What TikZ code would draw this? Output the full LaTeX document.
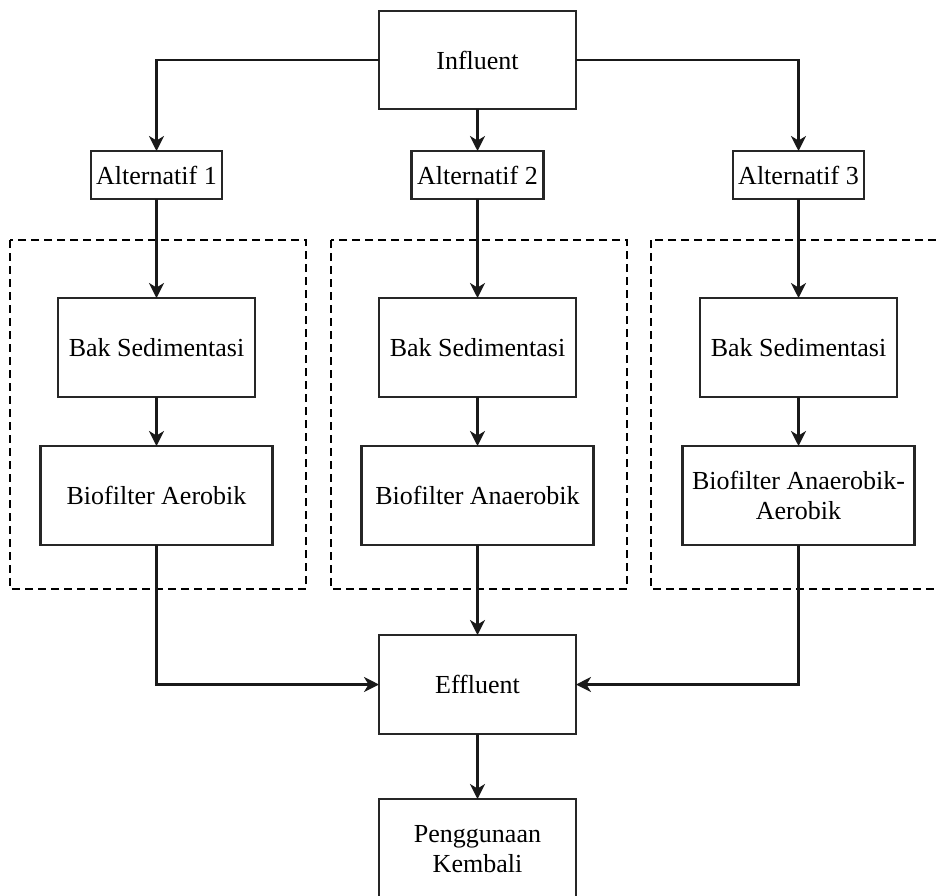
\documentclass[tikz,border=0pt]{standalone}
\usepackage{fontspec}
\setmainfont{Liberation Serif}
\usetikzlibrary{arrows.meta}
\begin{document}
\begin{tikzpicture}[x=1pt,y=-1pt,
  every node/.style={font=\fontsize{26}{30}\selectfont, align=center, inner sep=0pt, outer sep=0pt, text=black},
  box/.style={draw=black!85, line width=2.1pt},
  link/.style={draw=black!90, line width=2.1pt},
  arr/.style={link, -{Stealth[length=15pt,width=15pt,inset=4.5pt]}},
  grp/.style={draw=black, line width=1.7pt, dash pattern=on 8pt off 5pt}
]
\useasboundingbox (0,0) rectangle (936,895);
\clip (0,0) rectangle (936,895);
\fill[white] (0,0) rectangle (936,895);

% groups
\draw[grp] (10,240) rectangle (306,589);
\draw[grp] (331,240) rectangle (627,589);
\draw[grp] (651,240) rectangle (945,589);

% nodes
\node[box, minimum width=197pt, minimum height=98pt] (inf) at (477.5,60) {Influent};
\node[box, minimum width=131pt, minimum height=48pt] (alt1) at (156.5,175) {Alternatif 1};
\node[box, minimum width=132pt, minimum height=48pt] (alt2) at (477.5,175) {Alternatif 2};
\node[box, minimum width=131pt, minimum height=48pt] (alt3) at (798.5,175) {Alternatif 3};

\node[box, minimum width=197pt, minimum height=99pt] (bak1) at (156.5,347.5) {Bak Sedimentasi};
\node[box, minimum width=197pt, minimum height=99pt] (bak2) at (477.5,347.5) {Bak Sedimentasi};
\node[box, minimum width=197pt, minimum height=99pt] (bak3) at (798.5,347.5) {Bak Sedimentasi};

\node[box, minimum width=232pt, minimum height=99pt] (bio1) at (156.5,495.5) {Biofilter Aerobik};
\node[box, minimum width=232pt, minimum height=99pt] (bio2) at (477.5,495.5) {Biofilter Anaerobik};
\node[box, minimum width=232pt, minimum height=99pt] (bio3) at (798.5,495.5) {Biofilter Anaerobik-\\Aerobik};

\node[box, minimum width=197pt, minimum height=99pt] (eff) at (477.5,684.5) {Effluent};
\node[box, minimum width=197pt, minimum height=100pt] (reuse) at (477.5,849) {Penggunaan\\Kembali};

% connectors
\draw[arr] (inf.west) -| (alt1.north);
\draw[arr] (inf.south) -- (alt2.north);
\draw[arr] (inf.east) -| (alt3.north);

\draw[arr] (alt1.south) -- (bak1.north);
\draw[arr] (alt2.south) -- (bak2.north);
\draw[arr] (alt3.south) -- (bak3.north);

\draw[arr] (bak1.south) -- (bio1.north);
\draw[arr] (bak2.south) -- (bio2.north);
\draw[arr] (bak3.south) -- (bio3.north);

\draw[arr] (bio1.south) |- (eff.west);
\draw[arr] (bio2.south) -- (eff.north);
\draw[arr] (bio3.south) |- (eff.east);

\draw[arr] (eff.south) -- (reuse.north);
\end{tikzpicture}
\end{document}
